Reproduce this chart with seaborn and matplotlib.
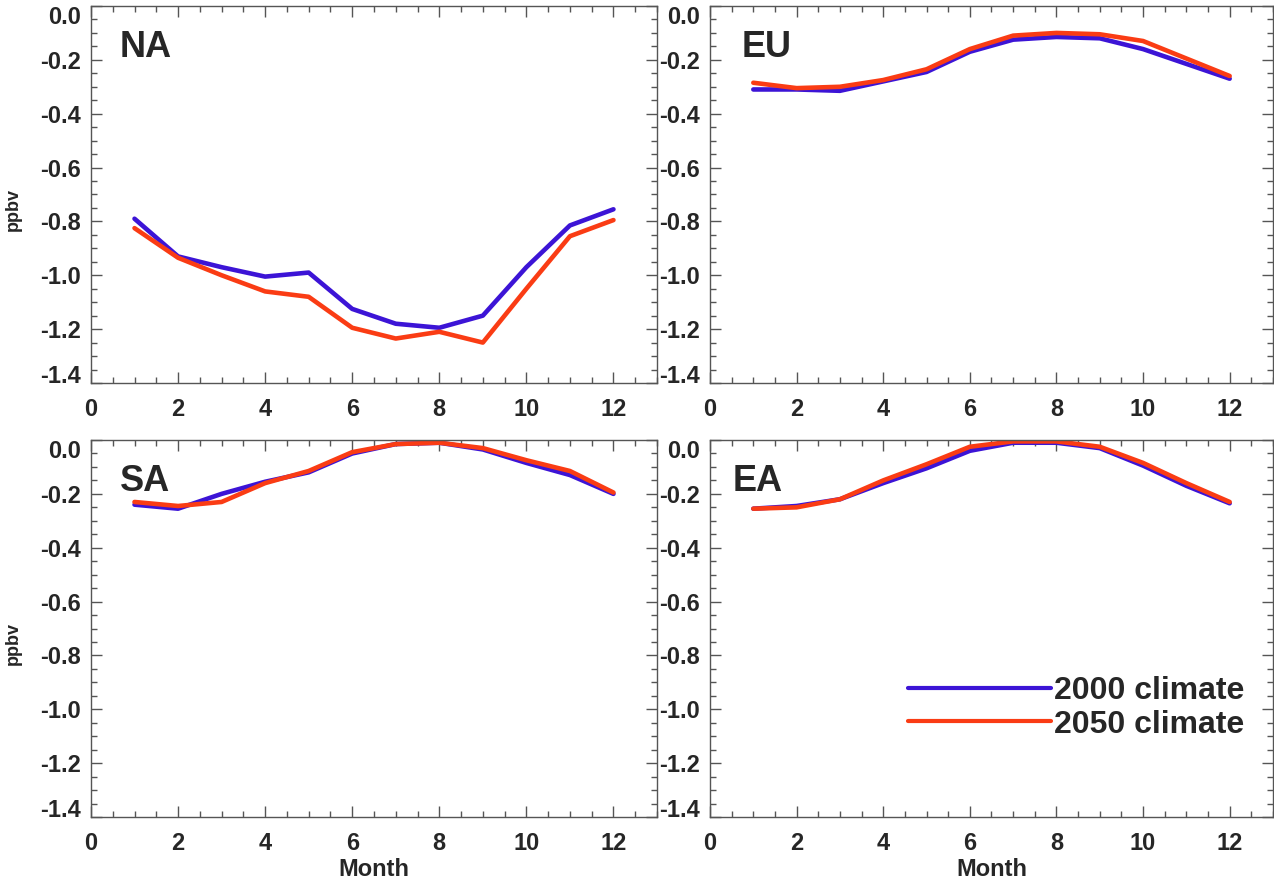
import pandas as pd
import matplotlib
matplotlib.use("Agg")
import matplotlib.pyplot as plt
from matplotlib.ticker import MultipleLocator
import seaborn as sns

# monthly values (ppbv)
months = list(range(1, 13))
regions = ["NA", "EU", "SA", "EA"]
scenarios = ["2000 climate", "2050 climate"]

na_2000 = [-0.79, -0.93, -0.97, -1.005, -0.99, -1.125, -1.18, -1.195, -1.15, -0.97, -0.815, -0.755]
na_2050 = [-0.825, -0.935, -1.0, -1.06, -1.08, -1.195, -1.235, -1.21, -1.25, -1.05, -0.855, -0.795]
eu_2000 = [-0.31, -0.31, -0.315, -0.28, -0.245, -0.17, -0.125, -0.115, -0.12, -0.16, -0.215, -0.27]
eu_2050 = [-0.285, -0.305, -0.3, -0.275, -0.235, -0.16, -0.11, -0.1, -0.105, -0.13, -0.195, -0.26]
sa_2000 = [-0.24, -0.255, -0.2, -0.155, -0.12, -0.05, -0.015, -0.01, -0.035, -0.085, -0.13, -0.2]
sa_2050 = [-0.23, -0.245, -0.23, -0.16, -0.115, -0.045, -0.015, -0.01, -0.03, -0.075, -0.115, -0.195]
ea_2000 = [-0.255, -0.245, -0.22, -0.16, -0.105, -0.04, -0.01, -0.01, -0.03, -0.095, -0.17, -0.235]
ea_2050 = [-0.255, -0.25, -0.22, -0.15, -0.09, -0.025, -0.005, -0.005, -0.025, -0.085, -0.16, -0.23]

series = {
    "NA": (na_2000, na_2050),
    "EU": (eu_2000, eu_2050),
    "SA": (sa_2000, sa_2050),
    "EA": (ea_2000, ea_2050),
}

y_ticks = [0.0, -0.2, -0.4, -0.6, -0.8, -1.0, -1.2, -1.4]
x_ticks = [0, 2, 4, 6, 8, 10, 12]

colors = {"2000 climate": "#3c14d6", "2050 climate": "#fa3c14"}

rows = []
for reg in regions:
    for scen, vals in zip(scenarios, series[reg]):
        for m, v in zip(months, vals):
            rows.append({"region": reg, "scenario": scen, "Month": m, "ppbv": v})
df = pd.DataFrame(rows)

sns.set_style("ticks")
plt.rcParams["font.family"] = ["Liberation Sans", "DejaVu Sans"]
plt.rcParams["font.weight"] = "bold"

fig = plt.figure(figsize=(12.74, 8.82), dpi=100)

# axes positions (figure fractions)
positions = {
    "NA": [0.0714, 0.5658, 0.4443, 0.4274],
    "EU": [0.5573, 0.5658, 0.4419, 0.4274],
    "SA": [0.0714, 0.0737, 0.4443, 0.4274],
    "EA": [0.5573, 0.0737, 0.4419, 0.4274],
}
label_x = {"NA": 0.051, "EU": 0.057, "SA": 0.051, "EA": 0.041}

for reg in regions:
    ax = fig.add_axes(positions[reg])
    sub = df[df["region"] == reg]
    sns.lineplot(data=sub, x="Month", y="ppbv", hue="scenario", palette=colors,
                 linewidth=3.3, ax=ax, legend=(reg == "EA"))

    ax.set_xlim(0, 13)
    ax.set_ylim(-1.4, 0.0)
    ax.set_xticks(x_ticks)
    ax.set_yticks(y_ticks)
    ax.set_yticklabels([f"{t:.1f}" for t in y_ticks])
    ax.xaxis.set_minor_locator(MultipleLocator(0.5))
    ax.yaxis.set_minor_locator(MultipleLocator(0.05))
    ax.tick_params(which="both", direction="in", top=True, right=True,
                   color="#555555", width=1)
    ax.tick_params(which="major", length=8, labelsize=17)
    ax.tick_params(which="minor", length=4)
    ax.tick_params(axis="x", which="major", pad=11)
    ax.tick_params(axis="y", which="major", pad=7)
    for lab in ax.get_xticklabels() + ax.get_yticklabels():
        lab.set_fontweight("bold")
    # end labels sit inside the axis range, like the original
    ylabs = ax.get_yticklabels()
    ylabs[0].set_verticalalignment("top")
    ylabs[-1].set_verticalalignment("baseline")
    for sp in ax.spines.values():
        sp.set_color("#555555")
        sp.set_linewidth(1)

    if reg in ("SA", "EA"):
        ax.set_xlabel("Month", fontsize=17, fontweight="bold", labelpad=2)
    else:
        ax.set_xlabel("")
    if reg in ("NA", "SA"):
        ax.set_ylabel("ppbv", fontsize=13, fontweight="bold")
        ax.yaxis.set_label_coords(-0.122, 0.459)
    else:
        ax.set_ylabel("")

    ax.text(label_x[reg], 0.89, reg, transform=ax.transAxes, fontsize=26,
            fontweight="bold", va="center", ha="left")

    if reg == "EA":
        leg = ax.legend(loc="center right", bbox_to_anchor=(0.95, 0.289),
                        frameon=False, fontsize=23, handlelength=4.5,
                        handletextpad=0.1, labelspacing=0.1, borderaxespad=0,
                        borderpad=0, title=None)
        for t in leg.get_texts():
            t.set_fontweight("bold")
        for ln in leg.get_lines():
            ln.set_linewidth(3)

fig.savefig("out.png", dpi=100)
